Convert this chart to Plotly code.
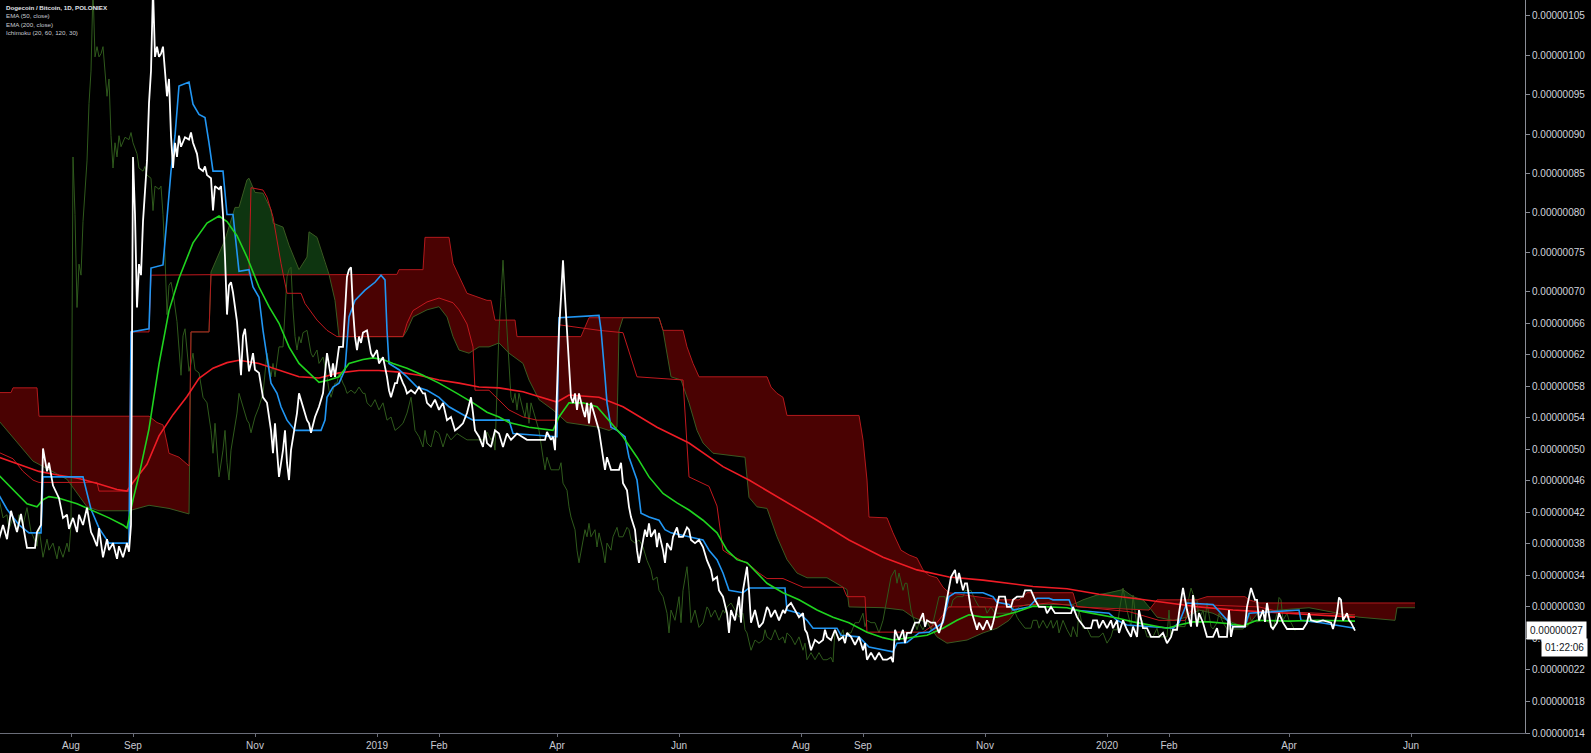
import numpy as np
import pandas as pd
import plotly.graph_objects as go

# ---------------- data (values in satoshi = 1e-8 BTC; days counted from START) -------------
START = pd.Timestamp("2018-06-26")

price_day = [0,2,4,6,8,9,11,13,14,18, 19,21,22,24,25,27,29,30,32,34, 35,37,39,40,42,44,46,47,49,50,
             52,54,55,57,59,60,62,64,65,66, 67,68,69,70,71,72,74,75,76,77, 78,79,80,81,82,83,84,85,86,87,
             88,89,90,91,93,95,96,97,99,100, 102,103,104,106,107,108,110,111,112,113, 114,115,116,117,119,121,122,123,125,
             126,127,128,130,132,134,136,137,138,140, 142,143,144,145,146,148,149,150,152,154,
             155,156,158,160,162,163,164,166,167,168, 170,172,173,174,175,176,177,178,179,180,
             181,182,184,186,187,189,190,192,194,195, 196,198,199,200,202,203,204,206,208,210,
             212,213,214,216,218,220,222,223,224,226, 228,230,232,234,236,237,238,240,242,243, 244,246,248,250,
             252,254,256,259,264,273,274,276,277,278, 279,280,281,282,283,284,285,286,287,288,
             289,290,292,293,294,295,296,298,300,302, 303,304,306,310,311,312,314,315,316,318,
             319,320,322,323,324,325,326,328,329,330, 332,333,334,336,337,339,340,342,344,345,
             346,348,350,352,354,356,357,359,360,362, 364,365,366,368,370,371,372,374,375,376, 378,380,
             382,384,385,386,388,390,392,393,394,396, 398,400,402,403,404,406,408,410,412,413,
             414,416,418,420,422,423,424,426,428,430, 432,433,434,436,438,440,442,444,446,447,
             448,450,452,453,454,456,458,460,462,463, 464,466,468,470,472,473,474,476,478,479,
             480,482,483,484,486,487,489,490,492,494, 496,497,499,500,503,504,
             506,507,509,512,513,516,518,520,523,524, 526,528,536,537,539,540,543,546,547,549,
             550,552,554,556,557,559,560,562,564,566, 567,569,570,572,574,576,580,582,584,586,
             587,589,590,592,594,596,597,599,600,602, 604,607,609,610,614,615,616,617,623,624, 626,628,629,
             630,632,633,634,636,637,639,640,642,644, 652,654,655,656,659,662,666,667,669,670,
             671,672,674,675,676,678]
price_sat = [38.6,40.4,38.6,42.2,40.4,39.5,41.8,39.0,37.5,37.5, 39.5,40.4,50.1,47.2,48.3,45.4,44.3,43.8,41.3,41.7,
             39.9,41.3,39.5,41.7,40.4,42.6,39.5,39.0,37.7,40.0, 36.3,38.6,37.2,38.1,36.1,37.7,36.3,38.1,37.0,40.4,
             87.1,79.8,68.0,73.5,72.1,78.9,86.6,93.9,98.0,108.5, 99.8,101.1,99.8,100.2,101.1,98.0,94.8,97.0,89.8,85.7,
             88.9,87.1,89.8,88.4,89.6,89.3,90.2,88.9,87.5,85.7, 85.3,85.9,84.8,84.4,80.3,83.4,83.0,83.4,79.8,74.4,
             67.1,70.8,71.2,69.9,66.2,59.4,64.4,65.3,59.9,
             60.9,62.2,60.1,59.7,56.6,55.9,52.4,49.5,53.3,46.5, 49.9,52.4,48.3,46.1,49.9,52.8,54.6,57.1,55.4,53.7,
             53.3,52.1,54.1,55.4,57.1,60.1,62.2,59.2,60.9,59.2, 63.0,63.0,66.8,71.9,72.8,73.1,67.7,64.3,62.6,64.3,
             63.5,64.8,65.1,62.2,61.7,62.6,60.9,61.7,59.2,57.5, 56.6,58.4,58.4,59.7,58.4,57.9,57.1,57.5,57.1,57.9,
             57.1,57.1,55.9,55.4,56.3,55.0,55.9,54.6,53.7,54.1, 52.4,52.8,53.3,54.6,56.6,54.6,52.4,51.6,50.3,52.4,
             50.8,50.3,52.4,52.0,
             50.3,52.0,51.2,52.0,51.2,51.2,52.2,51.2,51.6,49.9, 58.8,65.1,69.3,74.0,69.3,65.1,60.9,56.6,55.9,57.1,
             55.0,57.1,55.0,54.1,55.9,53.3,55.9,54.1,52.4,49.0, 47.4,49.0,47.4,47.4,48.3,45.7,44.8,42.7,41.4,39.8,
             37.2,35.6,38.1,39.8,38.9,40.6,38.9,39.8,37.6,39.4, 37.2,35.6,38.1,37.2,38.9,40.1,38.9,38.9,40.1,39.8,
             38.5,38.1,38.5,37.6,35.9,34.7,33.4,33.8,32.1,31.3, 29.2,26.7,29.6,28.3,31.3,28.0,32.1,35.1,32.1,28.0,
             29.6,27.4,
             28.0,30.0,29.6,28.7,29.6,28.3,29.6,29.2,30.0,30.5, 29.6,28.7,29.2,27.1,26.7,24.5,25.8,25.4,25.8,27.1,
             26.2,25.8,27.1,25.8,26.2,25.4,26.7,26.2,25.2,26.2, 24.5,25.4,23.3,24.2,23.3,24.2,23.3,23.3,23.6,23.0,
             27.1,25.8,27.1,25.4,26.7,26.7,28.0,28.0,29.2,27.5, 28.3,28.0,28.0,26.7,28.3,29.6,31.3,33.8,34.7,33.0,
             34.3,32.1,33.0,33.0,29.6,28.7,27.1,28.0,27.1,28.3, 27.1,28.0,30.5,31.3,31.3,30.0,
             30.0,30.9,31.3,31.3,32.1,32.1,30.9,30.0,30.0,29.2, 30.0,29.2,29.2,30.0,28.7,28.3,27.3,27.3,28.3,28.3,
             27.3,28.3,27.3,28.3,27.3,28.3,26.7,28.3,27.1,26.2, 27.5,26.2,29.6,27.3,27.3,26.2,26.2,26.7,25.4,26.2,
             27.1,27.1,29.2,32.4,29.6,27.5,31.5,27.5,29.2,28.0, 26.2,26.2,27.3,26.2,26.2,29.6,26.2,27.5,27.5,30.0,
             32.4,30.9,30.9,
             28.3,29.6,28.1,30.5,27.5,27.2,28.0,29.2,28.0,27.2, 27.2,28.0,29.2,28.3,28.1,28.3,28.0,27.2,29.2,31.2,
             30.9,28.3,29.2,28.3,28.0,27.0]

ema50_day = [0,7,14,19,22,25,30,39,47,55,62,64,67,70,75,80,85,90,97,104,110,114,119,124,
             130,135,140,145,150,155,160,165,170,175,182,187,192,197,204,212,220,229,237,244,250,
             255,265,277,280,285,292,299,305,312,319,325,332,339,345,352,359,364,369,374,
             384,392,400,409,417,425,434,442,447,455,464,472,479,485,492,499,
             509,517,525,534,542,550,559,567,575,584,590,597,605,614,622,629,645,659,678]
ema50_sat = [46.7,44.9,43.1,42.7,43.6,44.0,43.8,43.1,42.2,41.3,40.4,40.0,43.6,46.7,52.6,60.8,67.6,71.7,76.2,78.7,79.6,78.9,77.1,74.4,
             70.6,68.1,66.0,63.0,60.9,59.7,58.5,58.8,59.2,60.9,61.4,61.6,61.4,60.9,60.3,59.4,58.4,57.1,55.9,54.7,54.1,
             53.4,52.8,52.4,54.1,55.9,55.9,55.4,53.7,51.6,49.0,46.5,44.4,43.2,42.3,41.0,39.4,37.2,36.0,35.6,
             33.0,31.8,30.9,29.6,28.7,28.0,26.8,26.1,25.8,26.1,26.4,27.3,28.3,29.0,28.7,28.7,
             29.4,30.1,30.0,29.9,29.4,29.0,28.6,28.1,27.7,27.3,27.7,28.1,28.1,27.9,27.6,28.3,28.2,28.3,28.2]

ema200_day = [0,10,20,30,40,50,59,64,67,74,80,87,94,100,107,114,120,130,140,150,160,170,180,190,200,210,220,230,240,250,
              262,279,285,300,312,329,345,362,375,392,409,425,442,459,475,492,505,517,534,550,567,584,600,617,630,650,678]
ema200_sat = [49.0,48.1,47.2,46.7,46.3,45.6,44.9,44.7,45.8,48.1,51.7,54.4,56.7,59.0,60.3,61.0,61.3,60.9,60.0,59.2,59.05,59.7,60.0,60.0,59.8,59.4,58.8,58.4,57.9,57.8,
              57.3,56.0,56.9,56.6,55.4,52.8,50.8,47.8,46.1,43.6,41.0,38.5,36.3,34.7,33.8,33.4,33.0,32.6,32.3,31.6,31.1,30.5,30.0,29.6,29.4,29.1,28.7]

# Ichimoku (20, 60, 120, 30)
tenkan_day = [0,4,10,15,21,22,42,44,46,50,55,65,66,75,76,82,86,88,90,95,97,100,103,105,107,112,114,117,120,
              125,127,130,132,134,136,139,141,144,148,161,163,164,167,170,173,175,178,183,188,191,193,194,195,
              200,204,209,214,220,225,234,237,255,257,279,280,300,301,303,304,306,309,313,315,319,321,325,330,
              333,336,345,352,355,359,362,365,372,375,393,394,400,404,407,419,421,430,435,442,447,449,454,460,
              465,472,475,478,492,497,499,505,507,515,519,525,527,535,537,555,559,564,587,590,594,607,614,617,
              623,625,650,651,661,678]
tenkan_sat = [44.2,42.4,40.4,39.4,39.4,46.5,46.5,44.5,42.4,40.0,38.1,38.1,64.9,65.3,73.0,73.4,85.3,89.8,96.1,96.6,93.8,92.5,92.1,88.9,85.3,85.3,79.8,79.8,72.6,
              72.8,70.6,69.3,65.1,61.7,58.4,57.1,55.4,53.7,52.4,52.4,53.7,56.6,57.9,58.4,60.1,66.8,68.9,70.2,71.2,72.1,71.5,65.1,60.9,
              60.1,59.2,57.9,57.5,56.6,55.4,54.1,53.7,53.7,52.0,51.6,66.7,67.0,65.2,59.2,55.9,52.8,52.4,51.6,49.0,46.1,41.9,41.4,41.0,
              39.8,39.4,38.9,38.5,37.2,36.0,34.3,32.1,31.8,32.4,32.4,29.6,29.2,28.3,27.3,27.3,26.4,26.2,24.9,24.5,24.3,25.4,25.5,26.7,
              26.8,28.0,31.3,31.8,31.8,31.3,30.6,30.3,29.6,30.0,31.1,31.1,30.9,30.9,29.6,29.2,28.3,27.7,27.3,28.0,30.5,30.3,28.3,27.5,
              27.5,29.2,29.6,28.3,28.0,27.3]

kijun_day = [0,7,12,17,20,49,50,65,66,75,76,125,126,132,134,137,141,144,151,153,159,164,169,202,204,207,214,220,227,230,
             234,237,238,245,255,262,269,279,280,300,312,319,342,345,355,359,362,365,375,380,384,392,402,422,424,433,434,
             462,469,475,505,525,545,565,580,593,598,630,640,678]
kijun_sat = [49.6,48.8,47.2,46.1,45.8,45.8,44.7,44.7,64.9,64.9,72.1,72.2,83.2,82.9,82.0,79.5,73.6,69.8,69.8,68.5,66.4,65.1,64.3,64.3,66.0,67.6,68.7,69.2,68.6,67.7,
             65.9,63.0,57.5,57.5,55.0,54.1,53.7,53.7,65.8,65.1,64.8,59.2,58.8,46.5,45.3,42.8,37.2,36.7,35.4,34.3,33.6,33.6,32.5,32.5,31.3,31.3,26.8,
             26.8,28.0,30.0,30.0,30.5,29.9,29.4,28.3,28.3,30.3,30.0,29.4,29.0]

span_a_day = [0,17,34,44,50,65,75,85,95,96,105,106,113,118,120,124,125,128,132,136,137,142,145,150,154,155,159,163,165,168,
              170,202,204,207,214,220,224,227,230,235,240,245,250,255,262,265,270,277,284,292,300,305,309,310,312,330,332,336,341,345,
              349,352,357,373,375,379,384,389,394,399,404,414,424,425,442,452,457,464,469,474,484,492,499,505,510,514,537,542,549,555,
              562,567,572,575,579,587,594,600,607,614,620,624,630,655,680,698,699,708]
span_a_sat = [53.6,48.5,46.2,42.7,42.2,42.2,42.9,42.5,41.8,64.9,64.9,72.5,76.6,80.7,80.7,84.2,84.4,82.6,82.5,80.4,78.7,78.2,75.9,72.8,74.4,77.6,76.9,73.6,72.2,68.9,
              64.3,64.3,65.1,66.8,67.7,68.1,66.8,64.3,62.6,62.2,63.0,63.0,63.5,62.2,60.9,58.8,56.3,55.0,53.4,53.1,52.8,52.4,52.8,65.1,66.7,66.7,65.1,59.2,58.8,55.9,
              52.4,50.8,49.5,49.0,43.9,42.7,42.5,38.9,36.0,34.3,33.7,33.7,32.2,30.0,29.9,29.6,28.7,28.0,26.2,25.4,25.8,26.7,27.3,28.3,30.0,30.3,30.3,30.9,31.5,31.8,
              32.2,31.3,30.9,30.0,28.7,28.3,28.7,29.6,29.2,28.3,27.7,27.5,29.4,29.9,28.7,28.3,29.9,29.9]

span_b_day = [0,6,7,19,20,75,79,82,84,85,90,95,96,105,106,199,200,212,213,225,227,234,244,246,248,258,259,291,295,330,
              332,342,344,347,350,384,386,389,392,394,430,432,434,435,444,447,451,455,459,462,465,469,472,475,500,510,514,537,539,575,
              579,599,604,623,625,630,708]
span_b_sat = [57.2,57.2,57.8,57.8,54.2,54.2,53.4,53.1,50.8,49.5,49.0,47.9,64.9,64.9,72.1,72.2,72.8,72.8,76.9,76.9,73.6,69.8,68.9,68.9,66.4,66.4,64.3,64.3,66.7,66.7,
              65.1,65.1,63.0,60.9,59.2,59.2,57.9,57.1,56.6,54.3,54.3,51.2,46.1,41.4,41.3,39.4,37.2,36.6,36.2,34.7,34.0,33.7,32.5,31.8,30.9,30.9,31.8,31.8,30.0,29.6,
              30.9,30.9,31.3,31.3,30.9,30.5,30.5]

LAG = 30  # lagging span displacement (days)

y_ticks = [14, 18, 22, 26, 30, 34, 38, 42, 46, 50, 54, 58, 62, 66, 70, 75, 80, 85, 90, 95, 100, 105]
x_tick_dates = ["2018-08-01", "2018-09-01", "2018-11-01", "2019-01-01", "2019-02-01", "2019-04-01", "2019-06-01",
                "2019-08-01", "2019-09-01", "2019-11-01", "2020-01-01", "2020-02-01", "2020-04-01", "2020-06-01"]
x_tick_text = ["Aug", "Sep", "Nov", "2019", "Feb", "Apr", "Jun", "Aug", "Sep", "Nov", "2020", "Feb", "Apr", "Jun"]

legend_lines = ["<b>Dogecoin / Bitcoin, 1D, POLONIEX</b>", "EMA (50, close)", "EMA (200, close)", "Ichimoku (20, 60, 120, 30)"]
last_price_text = "0.00000027"
countdown_text = "01:22:06"

# ---------------- helpers ----------------
for a, b in [(price_day, price_sat), (ema50_day, ema50_sat), (ema200_day, ema200_sat), (tenkan_day, tenkan_sat),
             (kijun_day, kijun_sat), (span_a_day, span_a_sat), (span_b_day, span_b_sat)]:
    assert len(a) == len(b), (len(a), len(b))


def to_dates(days):
    return [START + pd.Timedelta(days=float(d)) for d in days]


def cloud_segments(days_a, va, days_b, vb):
    days = np.array(sorted(set(days_a) | set(days_b)), dtype=float)
    a = np.interp(days, days_a, va)
    b = np.interp(days, days_b, vb)
    segs = []
    cd, ca, cb = [days[0]], [a[0]], [b[0]]
    sign = a[0] >= b[0]
    for i in range(1, len(days)):
        s = a[i] >= b[i]
        if s != sign:
            d0 = a[i - 1] - b[i - 1]
            d1 = a[i] - b[i]
            t = d0 / (d0 - d1) if d0 != d1 else 0.0
            dc = days[i - 1] + t * (days[i] - days[i - 1])
            vc = a[i - 1] + t * (a[i] - a[i - 1])
            cd.append(dc); ca.append(vc); cb.append(vc)
            segs.append((cd, ca, cb, sign))
            cd, ca, cb = [dc], [vc], [vc]
            sign = s
        cd.append(days[i]); ca.append(a[i]); cb.append(b[i])
    segs.append((cd, ca, cb, sign))
    return segs


fig = go.Figure()

# cloud fills
for cd, ca, cb, bull in cloud_segments(span_a_day, span_a_sat, span_b_day, span_b_sat):
    xs = to_dates(cd) + to_dates(cd[::-1])
    ys = list(ca) + list(cb[::-1])
    fig.add_trace(go.Scatter(x=xs, y=ys, mode="lines", line=dict(width=0), fill="toself",
                             fillcolor="#0e3510" if bull else "#4a0202", hoverinfo="skip", showlegend=False))

# lagging span (close displaced back)
fig.add_trace(go.Scatter(x=to_dates([d - LAG for d in price_day]), y=price_sat, mode="lines",
                         line=dict(color="#2f5a1c", width=1), showlegend=False))
# leading spans
fig.add_trace(go.Scatter(x=to_dates(span_a_day), y=span_a_sat, mode="lines",
                         line=dict(color="#3a5a22", width=1), showlegend=False))
fig.add_trace(go.Scatter(x=to_dates(span_b_day), y=span_b_sat, mode="lines",
                         line=dict(color="#b3191c", width=1), showlegend=False))
# base line
fig.add_trace(go.Scatter(x=to_dates(kijun_day), y=kijun_sat, mode="lines",
                         line=dict(color="#c2181e", width=1), showlegend=False))
# EMA 200
fig.add_trace(go.Scatter(x=to_dates(ema200_day), y=ema200_sat, mode="lines",
                         line=dict(color="#ee1c25", width=1.6), showlegend=False))
# conversion line
fig.add_trace(go.Scatter(x=to_dates(tenkan_day), y=tenkan_sat, mode="lines",
                         line=dict(color="#2196f3", width=1.6), showlegend=False))
# EMA 50
fig.add_trace(go.Scatter(x=to_dates(ema50_day), y=ema50_sat, mode="lines",
                         line=dict(color="#1fd31f", width=1.6), showlegend=False))
# price
fig.add_trace(go.Scatter(x=to_dates(price_day), y=price_sat, mode="lines",
                         line=dict(color="#ffffff", width=1.8), showlegend=False))

annotations = []
for i, t in enumerate(legend_lines):
    annotations.append(dict(xref="paper", yref="paper", x=4 / 1525, y=1 - (7.5 + 8.3 * i) / 733,
                            xanchor="left", yanchor="middle", showarrow=False, text=t,
                            font=dict(family="Liberation Sans, Arial, sans-serif", size=6.2,
                                      color="#e0e3eb" if i == 0 else "#c8cad2")))
annotations.append(dict(xref="paper", yref="y", x=1, y=27, xanchor="left", yanchor="middle", xshift=1,
                        showarrow=False, text=last_price_text, bgcolor="#ffffff", borderpad=3,
                        font=dict(family="Liberation Sans, Arial, sans-serif", size=10, color="#131722")))
annotations.append(dict(xref="paper", yref="y", x=1, y=27, xanchor="left", yanchor="top", xshift=16, yshift=-7,
                        showarrow=False, text=countdown_text, bgcolor="#ffffff", borderpad=3,
                        font=dict(family="Liberation Sans, Arial, sans-serif", size=10, color="#131722")))

fig.update_layout(
    width=1591, height=753,
    margin=dict(l=0, r=66, t=0, b=20),
    paper_bgcolor="#000000", plot_bgcolor="#000000",
    showlegend=False,
    annotations=annotations,
    xaxis=dict(type="date",
               range=[START + pd.Timedelta(days=0.5), START + pd.Timedelta(days=763)],
               showgrid=False, zeroline=False, showline=True, linecolor="#6a6d78", linewidth=1,
               ticks="outside", ticklen=3, tickcolor="#6a6d78",
               tickvals=x_tick_dates, ticktext=x_tick_text,
               tickfont=dict(family="Liberation Sans, Arial, sans-serif", size=10, color="#c8cad2")),
    yaxis=dict(side="right", range=[14, 107.02], showgrid=False, zeroline=False,
               showline=True, linecolor="#8a8d96", linewidth=1,
               ticks="outside", ticklen=4, tickcolor="#8a8d96",
               tickvals=y_ticks, ticktext=[f"0.{v:08d}" for v in y_ticks],
               tickfont=dict(family="Liberation Sans, Arial, sans-serif", size=10, color="#d1d4dc")),
)

fig.write_html("out.html", config={"displayModeBar": False},
               post_script="document.body.style.margin='0';document.body.style.padding='0';"
                           "document.body.style.background='#000';document.body.style.overflow='hidden';")
